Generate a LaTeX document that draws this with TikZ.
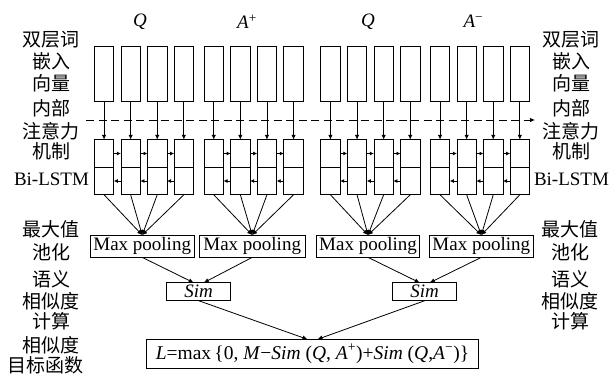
\documentclass[tikz,border=0pt]{standalone}
\usepackage{fontspec}
\setmainfont{Liberation Serif}
\newfontfamily\cjk{Noto Sans CJK SC}
\usetikzlibrary{arrows.meta}
\begin{document}
\begin{tikzpicture}[x=1pt,y=-1pt,
  lw/.style={line width=0.8pt},
  tbox/.style={draw,lw,inner sep=0pt,outer sep=0pt,minimum width=19.5pt,minimum height=55pt},
  hbox/.style={draw,lw,inner sep=0pt,outer sep=0pt,minimum width=19.5pt,minimum height=27.5pt},
  arr/.style={lw,-{Latex[length=5pt,width=4.5pt]}},
  tarr/.style={lw,-{Latex[length=4pt,width=4pt]}},
  txtbox/.style={draw,lw,inner sep=0pt,outer sep=0pt,font=\fontsize{19}{19}\selectfont},
  zh/.style={inner sep=0pt,font=\cjk\fontsize{19}{19}\selectfont},
  lat/.style={inner sep=0pt,font=\fontsize{19}{19}\selectfont},
  qlab/.style={inner sep=0pt,font=\itshape\fontsize{19}{19}\selectfont}]
\useasboundingbox[fill=white] (0,0) rectangle (611,376);

% group labels
\node[qlab] (q1) at (140,21.7) {Q};
\node[qlab] (ap) at (247,21.7) {A\textsuperscript{\upshape +}};
\node[qlab] (q2) at (368,21.7) {Q};
\node[qlab] (am) at (473.3,21.7) {A\textsuperscript{\upshape −}};

% dashed attention line
\coordinate (dl) at (86,120);
\coordinate (dr) at (535,120);
\draw[arr,dash pattern=on 8pt off 4.5pt] (dl) -- (dr);

% max pooling boxes
\node[txtbox,minimum width=104.3pt,minimum height=22.3pt] (mp1) at (142.2,246.2) {Max pooling};
\node[txtbox,minimum width=105.7pt,minimum height=22.3pt] (mp2) at (252.2,246.2) {Max pooling};
\node[txtbox,minimum width=102.6pt,minimum height=22.3pt] (mp3) at (368,246.2) {Max pooling};
\node[txtbox,minimum width=104pt,minimum height=22.3pt] (mp4) at (481.3,246.2) {Max pooling};

% columns
\foreach \g/\gx in {1/94.3,2/204,3/320.7,4/430.3}{
  \foreach \k in {0,1,2,3}{
    \pgfmathsetmacro\cx{\gx+26.6*\k+9.75}
    \node[tbox] (t\g\k) at (\cx,74.2) {};
    \node[hbox] (u\g\k) at (\cx,153.5) {};
    \node[hbox] (d\g\k) at (\cx,181) {};
    \draw[arr] (t\g\k.south) -- (u\g\k.north);
    \draw[arr] (d\g\k.south) -- (mp\g.north);
  }
  \foreach \k/\n in {0/1,1/2,2/3}{
    \draw[tarr] (u\g\k.east) -- (u\g\n.west);
    \draw[tarr] (d\g\n.west) -- (d\g\k.east);
  }
}

% Sim boxes
\node[txtbox,minimum width=64pt,minimum height=18pt] (s1) at (198.7,291.7) {\itshape Sim};
\node[txtbox,minimum width=64pt,minimum height=18pt] (s2) at (424.7,291.7) {\itshape Sim};
\draw[arr] (mp1.south) -- ([xshift=-5pt]s1.north);
\draw[arr] (mp2.south) -- ([xshift=5pt]s1.north);
\draw[arr] (mp3.south) -- ([xshift=-5pt]s2.north);
\draw[arr] (mp4.south) -- ([xshift=5pt]s2.north);

% loss box
\node[txtbox,minimum width=331.6pt,minimum height=29pt,font=\fontsize{19.5}{19.5}\selectfont] (lb) at (312.5,353.8)
  {\textit{L}=max\,\{0, \textit{M}−\textit{Sim} (\textit{Q}, \textit{A}\textsuperscript{+})+\textit{Sim} (\textit{Q},\textit{A}\textsuperscript{−})\}};
\draw[arr] (s1.south) -- ([xshift=-5pt]lb.north);
\draw[arr] (s2.south) -- ([xshift=5pt]lb.north);

% left labels
\node[zh] (l1) at (51,40) {双层词};
\node[zh] (l2) at (51,61.7) {嵌入};
\node[zh] (l3) at (51,83.3) {向量};
\node[zh] (l4) at (51,108) {内部};
\node[zh] (l5) at (51,131) {注意力};
\node[zh] (l6) at (51,151.7) {机制};
\node[lat] (l7) at (51.5,179) {Bi-LSTM};
\node[zh] (l8) at (51,229.3) {最大值};
\node[zh] (l9) at (51,252.7) {池化};
\node[zh] (l10) at (51,279.3) {语义};
\node[zh] (l11) at (51,301.7) {相似度};
\node[zh] (l12) at (51,321.7) {计算};
\node[zh] (l13) at (51,345) {相似度};
\node[zh] (l14) at (46,365) {目标函数};

% right labels
\node[zh] (r1) at (571,40) {双层词};
\node[zh] (r2) at (571,61.7) {嵌入};
\node[zh] (r3) at (571,83.3) {向量};
\node[zh] (r4) at (571,108) {内部};
\node[zh] (r5) at (571,131) {注意力};
\node[zh] (r6) at (571,151.7) {机制};
\node[lat] (r7) at (571.5,179) {Bi-LSTM};
\node[zh] (r8) at (570,229.3) {最大值};
\node[zh] (r9) at (570,252.7) {池化};
\node[zh] (r10) at (570,279.3) {语义};
\node[zh] (r11) at (570,301.7) {相似度};
\node[zh] (r12) at (570,321.7) {计算};
\end{tikzpicture}
\end{document}
